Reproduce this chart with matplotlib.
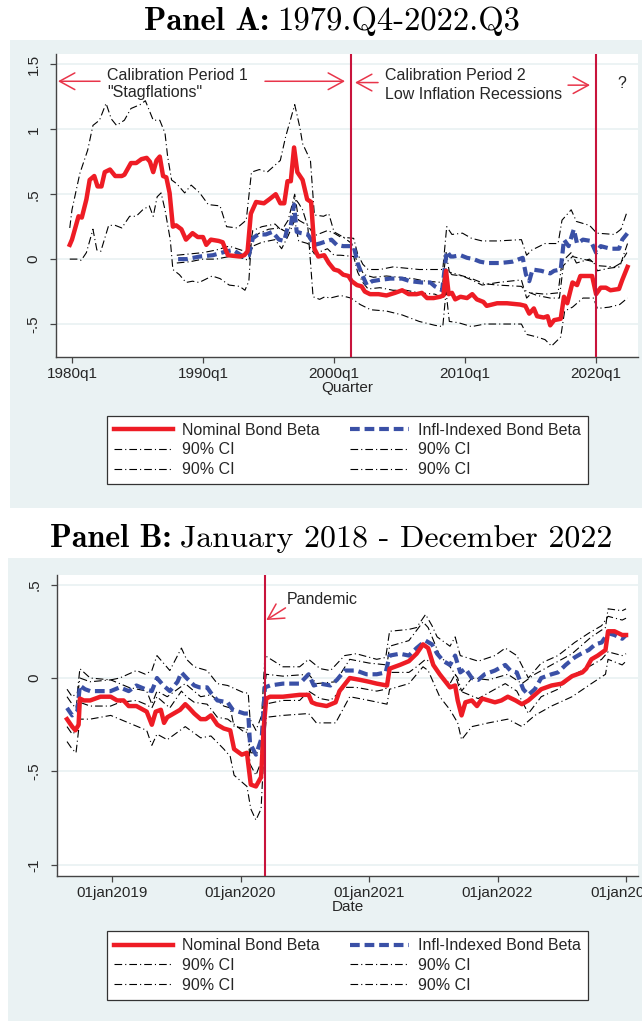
import matplotlib
matplotlib.use('Agg')
import matplotlib.pyplot as plt
from matplotlib.patches import Rectangle
from matplotlib.lines import Line2D

plt.rcParams['font.family'] = ['Liberation Sans', 'DejaVu Sans']
plt.rcParams['lines.scale_dashes'] = False

RED = '#ee1c25'
BLUE = '#3a50a6'
VRED = '#c8143c'
AROW = '#e8354a'
BG = '#eaf2f3'
INK = '#262626'
CI_DASH = (0, (5.5, 2.2, 0.8, 2.2))
BLUE_DASH = (0, (7.0, 3.5))

# ---------------- Panel A: quarterly, 1979q4 - 2022q3 ----------------
a_nom_t = [1979.83, 1980.0, 1980.5, 1980.75, 1981.1, 1981.35, 1981.7, 1981.95, 1982.25, 1982.5,
           1982.9, 1983.3, 1983.8, 1984.0, 1984.5, 1984.9, 1985.3, 1985.7, 1985.95, 1986.2,
           1986.45, 1986.7, 1986.95, 1987.2, 1987.45, 1987.7, 1987.95, 1988.35, 1988.7, 1989.2,
           1989.6, 1990.0, 1990.25, 1990.6, 1991.2, 1991.5, 1991.9, 1992.8, 1993.15, 1993.4,
           1993.65, 1994.05, 1994.65, 1995.05, 1995.55, 1995.9, 1996.2, 1996.45, 1996.7, 1996.95,
           1997.2, 1997.6, 1997.95, 1998.25, 1998.5, 1998.8, 1999.25, 1999.6, 2000.0, 2000.35,
           2000.7, 2001.1, 2001.35, 2001.75, 2002.1, 2002.35, 2002.75, 2003.4, 2004.0, 2004.65,
           2005.2, 2005.7, 2006.3, 2006.7, 2007.1, 2007.6, 2008.1, 2008.35, 2008.55, 2008.75,
           2009.0, 2009.25, 2009.65, 2010.15, 2010.55, 2010.9, 2011.4, 2011.65, 2012.45, 2013.2,
           2014.2, 2014.6, 2014.9, 2015.25, 2015.5, 2016.0, 2016.3, 2016.5, 2016.8, 2017.3,
           2017.55, 2017.8, 2018.2, 2018.55, 2018.8, 2019.3, 2019.7, 2020.0, 2020.35, 2020.75,
           2021.1, 2021.75, 2022.0, 2022.4]
a_nom_v = [0.11, 0.15, 0.33, 0.32, 0.46, 0.61, 0.64, 0.56, 0.56, 0.67,
           0.69, 0.64, 0.64, 0.65, 0.74, 0.74, 0.77, 0.78, 0.75, 0.67,
           0.76, 0.79, 0.64, 0.63, 0.51, 0.25, 0.26, 0.23, 0.15, 0.20,
           0.17, 0.17, 0.11, 0.15, 0.14, 0.13, 0.03, 0.02, 0.03, 0.06,
           0.35, 0.44, 0.43, 0.46, 0.50, 0.43, 0.43, 0.60, 0.60, 0.86,
           0.67, 0.61, 0.46, 0.44, 0.08, 0.02, 0.03, -0.03, -0.08, -0.09,
           -0.12, -0.13, -0.17, -0.20, -0.21, -0.25, -0.27, -0.27, -0.28, -0.26,
           -0.24, -0.27, -0.27, -0.26, -0.30, -0.30, -0.29, -0.28, -0.09, -0.27,
           -0.26, -0.31, -0.29, -0.30, -0.27, -0.31, -0.33, -0.36, -0.34, -0.34,
           -0.35, -0.36, -0.42, -0.38, -0.44, -0.45, -0.44, -0.51, -0.47, -0.46,
           -0.29, -0.34, -0.18, -0.20, -0.13, -0.13, -0.13, -0.27, -0.22, -0.22,
           -0.24, -0.23, -0.16, -0.06]

a_inf_t = [1988.1, 1988.75, 1989.75, 1990.75, 1991.8, 1992.3, 1992.6, 1993.05, 1993.5, 1993.8,
           1994.2, 1994.8, 1995.3, 1995.8, 1996.2, 1996.45, 1996.7, 1996.95, 1997.15, 1997.5,
           1998.0, 1998.5, 1998.9, 1999.8, 2000.2, 2000.7, 2001.5, 2001.8, 2002.1, 2002.5,
           2002.9, 2003.5, 2004.3, 2005.2, 2005.8, 2006.7, 2007.35, 2007.7, 2008.25, 2008.6,
           2008.9, 2009.1, 2009.65, 2010.15, 2010.65, 2011.15, 2011.7, 2012.7, 2013.6, 2014.4,
           2014.65, 2014.9, 2015.15, 2015.8, 2016.5, 2016.8, 2017.3, 2017.55, 2017.9, 2018.3,
           2018.55, 2019.0, 2019.6, 2020.0, 2020.35, 2021.1, 2021.75, 2022.0, 2022.4]
a_inf_v = [0.00, 0.00, 0.02, 0.03, 0.06, 0.07, 0.05, 0.02, 0.03, 0.16,
           0.19, 0.19, 0.21, 0.15, 0.14, 0.24, 0.26, 0.42, 0.21, 0.20,
           0.19, 0.11, 0.12, 0.15, 0.11, 0.10, 0.10, -0.03, -0.11, -0.20,
           -0.17, -0.16, -0.15, -0.15, -0.17, -0.18, -0.18, -0.21, -0.24, 0.06,
           0.02, 0.02, 0.03, 0.01, 0.00, -0.02, -0.03, -0.03, -0.02, 0.01,
           -0.12, -0.17, -0.08, -0.09, -0.11, -0.09, -0.08, 0.15, 0.10, 0.23,
           0.12, 0.15, 0.14, 0.05, 0.10, 0.08, 0.08, 0.15, 0.20]

a_nom_hi_t = [1979.83, 1980.0, 1980.6, 1981.2, 1981.6, 1982.1, 1982.6, 1983.0, 1983.4, 1984.0,
              1984.5, 1985.2, 1985.6, 1986.2, 1986.7, 1987.1, 1987.3, 1987.6, 1988.0, 1988.6,
              1989.1, 1989.75, 1990.4, 1991.3, 1991.8, 1992.6, 1993.3, 1993.7, 1994.3, 1994.9,
              1995.9, 1996.3, 1997.0, 1997.4, 1997.6, 1998.2, 1998.5, 1999.2, 1999.6, 2000.0,
              2000.7, 2001.35, 2001.8, 2002.3, 2003.0, 2004.0, 2005.0, 2006.0, 2007.0, 2008.3,
              2008.55, 2008.8, 2009.5, 2010.5, 2011.5, 2012.5, 2014.3, 2014.7, 2015.5, 2016.5,
              2017.2, 2017.5, 2018.2, 2019.0, 2019.8, 2020.1, 2021.0, 2021.8, 2022.4]
a_nom_hi_v = [0.24, 0.38, 0.66, 0.84, 1.03, 1.07, 1.20, 1.08, 1.03, 1.07,
              1.16, 1.19, 1.22, 1.07, 1.07, 0.97, 0.79, 0.61, 0.58, 0.51,
              0.57, 0.51, 0.42, 0.41, 0.25, 0.24, 0.30, 0.67, 0.69, 0.67,
              0.76, 0.94, 1.19, 1.01, 0.89, 0.76, 0.34, 0.33, 0.35, 0.21,
              0.17, 0.12, -0.04, -0.12, -0.14, -0.13, -0.14, -0.15, -0.17, -0.18,
              0.05, -0.10, -0.12, -0.15, -0.19, -0.20, -0.21, -0.25, -0.28, -0.30,
              -0.30, -0.05, 0.02, 0.00, -0.02, -0.09, -0.07, -0.06, 0.12]

a_nom_lo_t = [1979.83, 1980.5, 1980.7, 1981.1, 1981.6, 1981.9, 1982.2, 1982.8, 1983.3, 1983.8,
              1984.4, 1984.9, 1985.4, 1985.9, 1986.2, 1986.5, 1986.8, 1987.1, 1987.5, 1987.7,
              1988.2, 1988.7, 1989.2, 1989.7, 1990.1, 1990.7, 1991.3, 1992.0, 1992.8, 1993.2,
              1993.5, 1993.7, 1994.3, 1995.0, 1995.8, 1996.35, 1996.7, 1997.0, 1997.3, 1997.6,
              1998.0, 1998.4, 1998.9, 1999.3, 1999.7, 2000.5, 2001.3, 2002.0, 2002.8, 2004.0,
              2005.2, 2006.5, 2007.7, 2008.3, 2008.55, 2008.8, 2009.5, 2010.5, 2011.5, 2012.5,
              2014.3, 2014.7, 2015.5, 2016.1, 2016.6, 2016.9, 2017.3, 2017.6, 2018.2, 2019.0,
              2019.8, 2020.1, 2021.0, 2021.8, 2022.4]
a_nom_lo_v = [0.00, 0.00, -0.01, 0.05, 0.23, 0.07, 0.06, 0.26, 0.26, 0.24,
              0.33, 0.33, 0.38, 0.41, 0.33, 0.48, 0.51, 0.38, 0.15, -0.08,
              -0.12, -0.18, -0.17, -0.18, -0.16, -0.13, -0.15, -0.20, -0.21, -0.24,
              -0.17, 0.16, 0.20, 0.23, 0.24, 0.21, 0.25, 0.47, 0.43, 0.38,
              0.25, -0.29, -0.31, -0.29, -0.30, -0.28, -0.30, -0.35, -0.39, -0.40,
              -0.43, -0.48, -0.51, -0.52, -0.25, -0.48, -0.49, -0.52, -0.50, -0.50,
              -0.50, -0.58, -0.60, -0.62, -0.67, -0.64, -0.60, -0.40, -0.37, -0.30,
              -0.30, -0.38, -0.37, -0.35, -0.30]

a_inf_hi_t = [1988.0, 1989.0, 1990.0, 1991.0, 1992.0, 1992.6, 1993.5, 1993.8, 1994.5, 1995.5,
              1996.0, 1996.5, 1997.0, 1997.3, 1998.0, 1998.5, 1999.5, 2000.0, 2000.5, 2001.5,
              2001.8, 2002.2, 2002.6, 2003.5, 2004.5, 2005.5, 2006.5, 2007.7, 2008.3, 2008.6,
              2009.0, 2009.8, 2010.5, 2011.3, 2012.5, 2014.3, 2014.7, 2015.1, 2016.1, 2017.1,
              2017.4, 2018.1, 2018.5, 2019.5, 2020.05, 2021.4, 2021.9, 2022.35]
a_inf_hi_v = [0.03, 0.04, 0.05, 0.07, 0.10, 0.08, 0.05, 0.22, 0.25, 0.27,
              0.22, 0.30, 0.50, 0.30, 0.26, 0.18, 0.22, 0.20, 0.17, 0.16,
              0.04, -0.04, -0.08, -0.08, -0.06, -0.07, -0.08, -0.08, -0.08, 0.25,
              0.19, 0.20, 0.16, 0.14, 0.14, 0.15, 0.03, 0.07, 0.12, 0.12,
              0.30, 0.38, 0.29, 0.26, 0.20, 0.19, 0.23, 0.36]

a_inf_lo_t = a_inf_hi_t
a_inf_lo_v = [-0.03, -0.02, 0.00, 0.00, 0.02, 0.02, -0.01, 0.10, 0.13, 0.15,
              0.08, 0.18, 0.30, 0.14, 0.12, 0.04, 0.08, 0.03, 0.03, 0.02,
              -0.10, -0.18, -0.23, -0.22, -0.24, -0.24, -0.26, -0.27, -0.30, -0.08,
              -0.12, -0.13, -0.16, -0.20, -0.18, -0.16, -0.30, -0.26, -0.27, -0.26,
              -0.02, 0.05, -0.03, 0.00, -0.05, -0.06, -0.03, 0.05]

a_breaks = [2001.3, 2020.0]
a_xticks = [1980, 1990, 2000, 2010, 2020]
a_xlabels = ['1980q1', '1990q1', '2000q1', '2010q1', '2020q1']
a_yticks = [-0.5, 0, 0.5, 1, 1.5]
a_ylabels = ['-.5', '0', '.5', '1', '1.5']

# ---------------- Panel B: daily, 2018 - 2022 (decimal years) ----------------
b_nom_t = [2018.65, 2018.69, 2018.715, 2018.74, 2018.75, 2018.78, 2018.83, 2018.91, 2018.99, 2019.04,
           2019.09, 2019.13, 2019.19, 2019.27, 2019.31, 2019.34, 2019.38, 2019.405, 2019.43, 2019.48,
           2019.53, 2019.57, 2019.6, 2019.64, 2019.69, 2019.73, 2019.77, 2019.82, 2019.87, 2019.92,
           2019.95, 2020.01, 2020.05, 2020.08, 2020.12, 2020.16, 2020.18, 2020.20, 2020.23, 2020.33,
           2020.46, 2020.53, 2020.555, 2020.59, 2020.67, 2020.74, 2020.77, 2020.85, 2020.93, 2021.0,
           2021.06, 2021.14, 2021.16, 2021.24, 2021.31, 2021.37, 2021.42, 2021.46, 2021.5, 2021.55,
           2021.63, 2021.67, 2021.69, 2021.72, 2021.75, 2021.80, 2021.84, 2021.88, 2021.93, 2021.98,
           2022.03, 2022.08, 2022.14, 2022.19, 2022.24, 2022.29, 2022.34, 2022.42, 2022.5, 2022.58,
           2022.66, 2022.69, 2022.73, 2022.78, 2022.84, 2022.86, 2022.91, 2022.97, 2023.0]
b_nom_v = [-0.22, -0.26, -0.28, -0.25, -0.11, -0.12, -0.12, -0.10, -0.10, -0.12,
           -0.12, -0.15, -0.15, -0.18, -0.25, -0.18, -0.17, -0.24, -0.21, -0.19,
           -0.17, -0.14, -0.16, -0.19, -0.22, -0.22, -0.20, -0.25, -0.27, -0.28,
           -0.38, -0.41, -0.40, -0.57, -0.58, -0.53, -0.27, -0.11, -0.10, -0.10,
           -0.09, -0.09, -0.13, -0.14, -0.15, -0.13, -0.07, 0.00, -0.01, -0.02,
           -0.03, -0.04, 0.05, 0.07, 0.09, 0.13, 0.18, 0.16, 0.07, 0.02,
           -0.05, -0.04, -0.12, -0.20, -0.13, -0.12, -0.15, -0.11, -0.12, -0.13,
           -0.12, -0.10, -0.12, -0.14, -0.12, -0.09, -0.06, -0.04, -0.03, 0.01,
           0.03, 0.05, 0.10, 0.12, 0.15, 0.25, 0.25, 0.23, 0.23]

b_inf_t = [2018.65, 2018.69, 2018.73, 2018.75, 2018.79, 2018.83, 2018.91, 2018.99, 2019.06, 2019.13,
           2019.19, 2019.26, 2019.31, 2019.35, 2019.40, 2019.45, 2019.51, 2019.54, 2019.58, 2019.64,
           2019.68, 2019.74, 2019.77, 2019.82, 2019.90, 2019.94, 2020.03, 2020.06, 2020.074, 2020.12,
           2020.165, 2020.19, 2020.23, 2020.33, 2020.46, 2020.53, 2020.57, 2020.62, 2020.70, 2020.75,
           2020.81, 2020.90, 2020.98, 2021.06, 2021.13, 2021.16, 2021.24, 2021.31, 2021.37, 2021.44,
           2021.49, 2021.53, 2021.58, 2021.63, 2021.67, 2021.71, 2021.75, 2021.80, 2021.85, 2021.90,
           2021.98, 2022.06, 2022.10, 2022.15, 2022.20, 2022.24, 2022.29, 2022.34, 2022.42, 2022.47,
           2022.53, 2022.60, 2022.65, 2022.71, 2022.76, 2022.81, 2022.86, 2022.91, 2022.97, 2023.0]
b_inf_v = [-0.16, -0.20, -0.18, -0.04, -0.06, -0.07, -0.07, -0.07, -0.05, -0.07,
           -0.04, -0.06, -0.07, 0.00, -0.04, -0.07, -0.02, 0.03, 0.00, -0.04,
           -0.05, -0.05, -0.08, -0.12, -0.13, -0.17, -0.19, -0.19, -0.35, -0.41,
           -0.32, -0.05, -0.04, -0.03, -0.03, 0.02, -0.04, -0.03, -0.04, -0.01,
           0.04, 0.04, 0.02, 0.02, 0.03, 0.12, 0.13, 0.12, 0.16, 0.20,
           0.18, 0.13, 0.09, 0.07, 0.12, 0.03, 0.05, 0.00, -0.01, 0.02,
           0.04, 0.07, 0.04, 0.03, -0.06, -0.09, -0.06, 0.00, 0.02, 0.03,
           0.07, 0.11, 0.13, 0.15, 0.18, 0.19, 0.24, 0.23, 0.21, 0.23]

b_nom_hi_t = [2018.65, 2018.69, 2018.72, 2018.75, 2018.83, 2018.99, 2019.13, 2019.27, 2019.31, 2019.35,
              2019.43, 2019.57, 2019.69, 2019.77, 2019.87, 2019.92, 2019.95, 2020.05, 2020.08, 2020.16,
              2020.18, 2020.20, 2020.33, 2020.53, 2020.59, 2020.74, 2020.85, 2021.0, 2021.14, 2021.16,
              2021.31, 2021.42, 2021.46, 2021.55, 2021.63, 2021.69, 2021.72, 2021.80, 2021.93, 2022.08,
              2022.19, 2022.29, 2022.42, 2022.58, 2022.73, 2022.84, 2022.86, 2022.97, 2023.0]
b_nom_hi_v = [-0.10, -0.14, -0.16, 0.00, -0.02, -0.01, -0.05, -0.07, -0.14, -0.07,
              -0.10, -0.03, -0.10, -0.09, -0.15, -0.16, -0.26, -0.27, -0.40, -0.40,
              -0.12, 0.02, 0.01, 0.02, -0.03, -0.02, 0.10, 0.08, 0.07, 0.17,
              0.20, 0.30, 0.27, 0.12, 0.06, 0.00, -0.07, 0.00, -0.01, 0.02,
              -0.03, 0.02, 0.07, 0.13, 0.22, 0.27, 0.37, 0.36, 0.37]

b_nom_lo_t = [2018.65, 2018.69, 2018.72, 2018.75, 2018.83, 2018.99, 2019.13, 2019.27, 2019.31, 2019.35,
              2019.43, 2019.57, 2019.69, 2019.77, 2019.87, 2019.92, 2019.95, 2020.05, 2020.08, 2020.12,
              2020.16, 2020.18, 2020.20, 2020.33, 2020.53, 2020.59, 2020.74, 2020.85, 2021.0, 2021.14,
              2021.16, 2021.31, 2021.42, 2021.46, 2021.55, 2021.63, 2021.69, 2021.72, 2021.80, 2021.93,
              2022.08, 2022.19, 2022.29, 2022.42, 2022.58, 2022.73, 2022.84, 2022.86, 2022.97, 2023.0]
b_nom_lo_v = [-0.34, -0.38, -0.40, -0.22, -0.22, -0.20, -0.24, -0.28, -0.36, -0.30,
              -0.33, -0.26, -0.32, -0.31, -0.38, -0.42, -0.52, -0.58, -0.70, -0.76,
              -0.70, -0.42, -0.21, -0.20, -0.19, -0.24, -0.24, -0.10, -0.12, -0.14,
              -0.06, -0.03, 0.06, 0.04, -0.10, -0.17, -0.24, -0.33, -0.26, -0.24,
              -0.22, -0.26, -0.20, -0.15, -0.10, -0.03, 0.02, 0.10, 0.07, 0.09]

b_inf_ci_t = [2018.65, 2018.69, 2018.73, 2018.75, 2018.83, 2018.99, 2019.06, 2019.19, 2019.26, 2019.31,
              2019.35, 2019.40, 2019.45, 2019.54, 2019.58, 2019.64, 2019.74, 2019.82, 2019.90, 2020.03,
              2020.06, 2020.074, 2020.12, 2020.165, 2020.19, 2020.33, 2020.46, 2020.53, 2020.62, 2020.70,
              2020.81, 2020.90, 2021.06, 2021.13, 2021.16, 2021.31, 2021.37, 2021.44, 2021.49, 2021.53,
              2021.63, 2021.67, 2021.71, 2021.85, 2021.98, 2022.06, 2022.15, 2022.24, 2022.34, 2022.47,
              2022.60, 2022.71, 2022.81, 2022.86, 2022.97, 2023.0]
b_inf_hi_v = [-0.06, -0.10, -0.08, 0.05, 0.00, -0.01, 0.00, 0.04, 0.02, 0.04,
              0.12, 0.08, 0.04, 0.16, 0.10, 0.06, 0.04, -0.03, -0.04, -0.08,
              -0.08, -0.22, -0.28, -0.20, 0.12, 0.06, 0.06, 0.10, 0.05, 0.04,
              0.12, 0.13, 0.10, 0.11, 0.25, 0.26, 0.27, 0.34, 0.28, 0.22,
              0.17, 0.22, 0.12, 0.09, 0.12, 0.16, 0.12, 0.00, 0.08, 0.12,
              0.19, 0.24, 0.28, 0.33, 0.31, 0.32]
b_inf_lo_v = [-0.26, -0.30, -0.28, -0.13, -0.15, -0.15, -0.13, -0.12, -0.14, -0.16,
              -0.10, -0.13, -0.16, -0.07, -0.10, -0.13, -0.14, -0.21, -0.22, -0.29,
              -0.29, -0.46, -0.52, -0.44, -0.14, -0.12, -0.12, -0.07, -0.11, -0.12,
              -0.05, -0.05, -0.07, -0.06, 0.03, 0.03, 0.06, 0.10, 0.08, 0.03,
              -0.03, 0.02, -0.07, -0.11, -0.06, -0.03, -0.07, -0.19, -0.10, -0.06,
              0.02, 0.06, 0.10, 0.14, 0.12, 0.13]

b_pandemic = 2020.19
b_xticks = [2019, 2020, 2021, 2022, 2023]
b_xlabels = ['01jan2019', '01jan2020', '01jan2021', '01jan2022', '01jan2023']
b_yticks = [-1, -0.5, 0, 0.5]
b_ylabels = ['-1', '-.5', '0', '.5']

legend_labels = ['Nominal Bond Beta', '90% CI', '90% CI', 'Infl-Indexed Bond Beta', '90% CI', '90% CI']

W, H = 642, 1025
fig = plt.figure(figsize=(W / 100, H / 100), dpi=100)
fig.patch.set_facecolor('white')


def fx(px):
    return px / W


def fy(py):
    return 1 - py / H


# light graph-region backgrounds
fig.patches.append(Rectangle((fx(10), fy(508)), 1, (508 - 40) / H, transform=fig.transFigure,
                             facecolor=BG, edgecolor='none', zorder=-5))
fig.patches.append(Rectangle((fx(8), fy(1021)), 1, (1021 - 558) / H, transform=fig.transFigure,
                             facecolor=BG, edgecolor='none', zorder=-5))


def style_axes(ax, xlim, ylim, xticks, xlabels, yticks, ylabels, xtitle):
    ax.set_facecolor('white')
    ax.set_xlim(*xlim)
    ax.set_ylim(*ylim)
    for s in ['top', 'right']:
        ax.spines[s].set_visible(False)
    for s in ['left', 'bottom']:
        ax.spines[s].set_color('#444444')
        ax.spines[s].set_linewidth(1.0)
    ax.set_xticks(xticks)
    ax.set_xticklabels(xlabels)
    ax.set_yticks(yticks)
    ax.set_yticklabels(ylabels, rotation=90, va='center')
    ax.tick_params(axis='both', direction='out', length=4, width=0.9, color='#444444',
                   labelsize=11, labelcolor=INK)
    ax.tick_params(axis='x', pad=3)
    ax.tick_params(axis='y', pad=7)
    ax.grid(axis='y', color=BG, lw=1.3)
    ax.set_axisbelow(True)
    ax.set_xlabel(xtitle, fontsize=11, color=INK, labelpad=0)


def draw_series(ax, nom, inf, cis):
    for t, v in cis:
        ax.plot(t, v, color='black', lw=0.8, ls=CI_DASH, zorder=3)
    ax.plot(inf[0], inf[1], color=BLUE, lw=3.0, ls=BLUE_DASH, zorder=4, solid_capstyle='butt')
    ax.plot(nom[0], nom[1], color=RED, lw=3.2, zorder=5, solid_joinstyle='round')


def add_legend(ycenter):
    h_nom = Line2D([], [], color=RED, lw=3.2)
    h_inf = Line2D([], [], color=BLUE, lw=3.0, ls=BLUE_DASH)
    h_ci = Line2D([], [], color='black', lw=0.8, ls=CI_DASH)
    leg = fig.legend([h_nom, h_ci, h_ci, h_inf, h_ci, h_ci], legend_labels, ncol=2, loc='center',
                     bbox_to_anchor=(fx(347.5), fy(ycenter)), frameon=True, fancybox=False,
                     edgecolor='#333333', framealpha=1, fontsize=11.5, handlelength=3.7,
                     handletextpad=0.55, columnspacing=1.9, labelspacing=0.3, borderpad=0.45,
                     borderaxespad=0)
    leg.get_frame().set_linewidth(0.9)
    for t in leg.get_texts():
        t.set_color(INK)


def two_part_title(bold, rest, xc, ybase, size):
    r = fig.canvas.get_renderer()
    t1 = fig.text(0, fy(ybase), bold, fontfamily='cmb10', fontsize=size, va='baseline', ha='left')
    t2 = fig.text(0, fy(ybase), rest, fontfamily='cmr10', fontsize=size, va='baseline', ha='left')
    w1 = t1.get_window_extent(r).width / W
    w2 = t2.get_window_extent(r).width / W
    gap = fx(8)
    x0 = fx(xc) - (w1 + gap + w2) / 2
    t1.set_x(x0)
    t2.set_x(x0 + w1 + gap)


# ---------------- Panel A ----------------
axA = fig.add_axes([fx(56), fy(357), fx(638) - fx(56), (357 - 54) / H])
style_axes(axA, (1978.78, 2023.2), (-0.754, 1.58), a_xticks, a_xlabels, a_yticks, a_ylabels, 'Quarter')
draw_series(axA, (a_nom_t, a_nom_v), (a_inf_t, a_inf_v),
            [(a_nom_hi_t, a_nom_hi_v), (a_nom_lo_t, a_nom_lo_v),
             (a_inf_hi_t, a_inf_hi_v), (a_inf_lo_t, a_inf_lo_v)])
for b in a_breaks:
    axA.axvline(b, color=VRED, lw=1.5, zorder=6)

arrow = dict(arrowstyle='->,head_length=0.55,head_width=0.3', color=AROW, lw=1.1,
             shrinkA=0, shrinkB=0, mutation_scale=20)
axA.annotate('', xy=(1978.93, 1.37), xytext=(1982.14, 1.37), arrowprops=arrow)
axA.annotate('', xy=(2000.84, 1.37), xytext=(1994.73, 1.37), arrowprops=arrow)
axA.annotate('', xy=(2001.6, 1.36), xytext=(2003.36, 1.36), arrowprops=arrow)
axA.annotate('', xy=(2019.54, 1.34), xytext=(2017.86, 1.34), arrowprops=arrow)
axA.text(1982.67, 1.415, 'Calibration Period 1', fontsize=11.5, color=INK, va='center')
axA.text(1982.67, 1.285, '"Stagflations"', fontsize=11.5, color=INK, va='center')
axA.text(2003.9, 1.415, 'Calibration Period 2', fontsize=11.5, color=INK, va='center')
axA.text(2003.9, 1.27, 'Low Inflation Recessions', fontsize=11.5, color=INK, va='center')
axA.text(2021.6, 1.35, '?', fontsize=11.5, color=INK, va='center')

add_legend(450)
two_part_title('Panel A:', '1979.Q4-2022.Q3', 332, 30, 23.5)

# ---------------- Panel B ----------------
axB = fig.add_axes([fx(57), fy(876), fx(638) - fx(57), (876 - 575) / H])
style_axes(axB, (2018.572, 2023.093), (-1.059, 0.551), b_xticks, b_xlabels, b_yticks, b_ylabels, 'Date')
draw_series(axB, (b_nom_t, b_nom_v), (b_inf_t, b_inf_v),
            [(b_nom_hi_t, b_nom_hi_v), (b_nom_lo_t, b_nom_lo_v),
             (b_inf_ci_t, b_inf_hi_v), (b_inf_ci_t, b_inf_lo_v)])
axB.axvline(b_pandemic, color=VRED, lw=1.5, zorder=6)
axB.annotate('', xy=(2020.2, 0.31), xytext=(2020.35, 0.375), arrowprops=arrow)
axB.text(2020.36, 0.42, 'Pandemic', fontsize=11.5, color=INK, va='center')

add_legend(965.5)
two_part_title('Panel B:', 'January 2018 - December 2022', 331, 547, 23)

fig.savefig('out.png', dpi=100)
